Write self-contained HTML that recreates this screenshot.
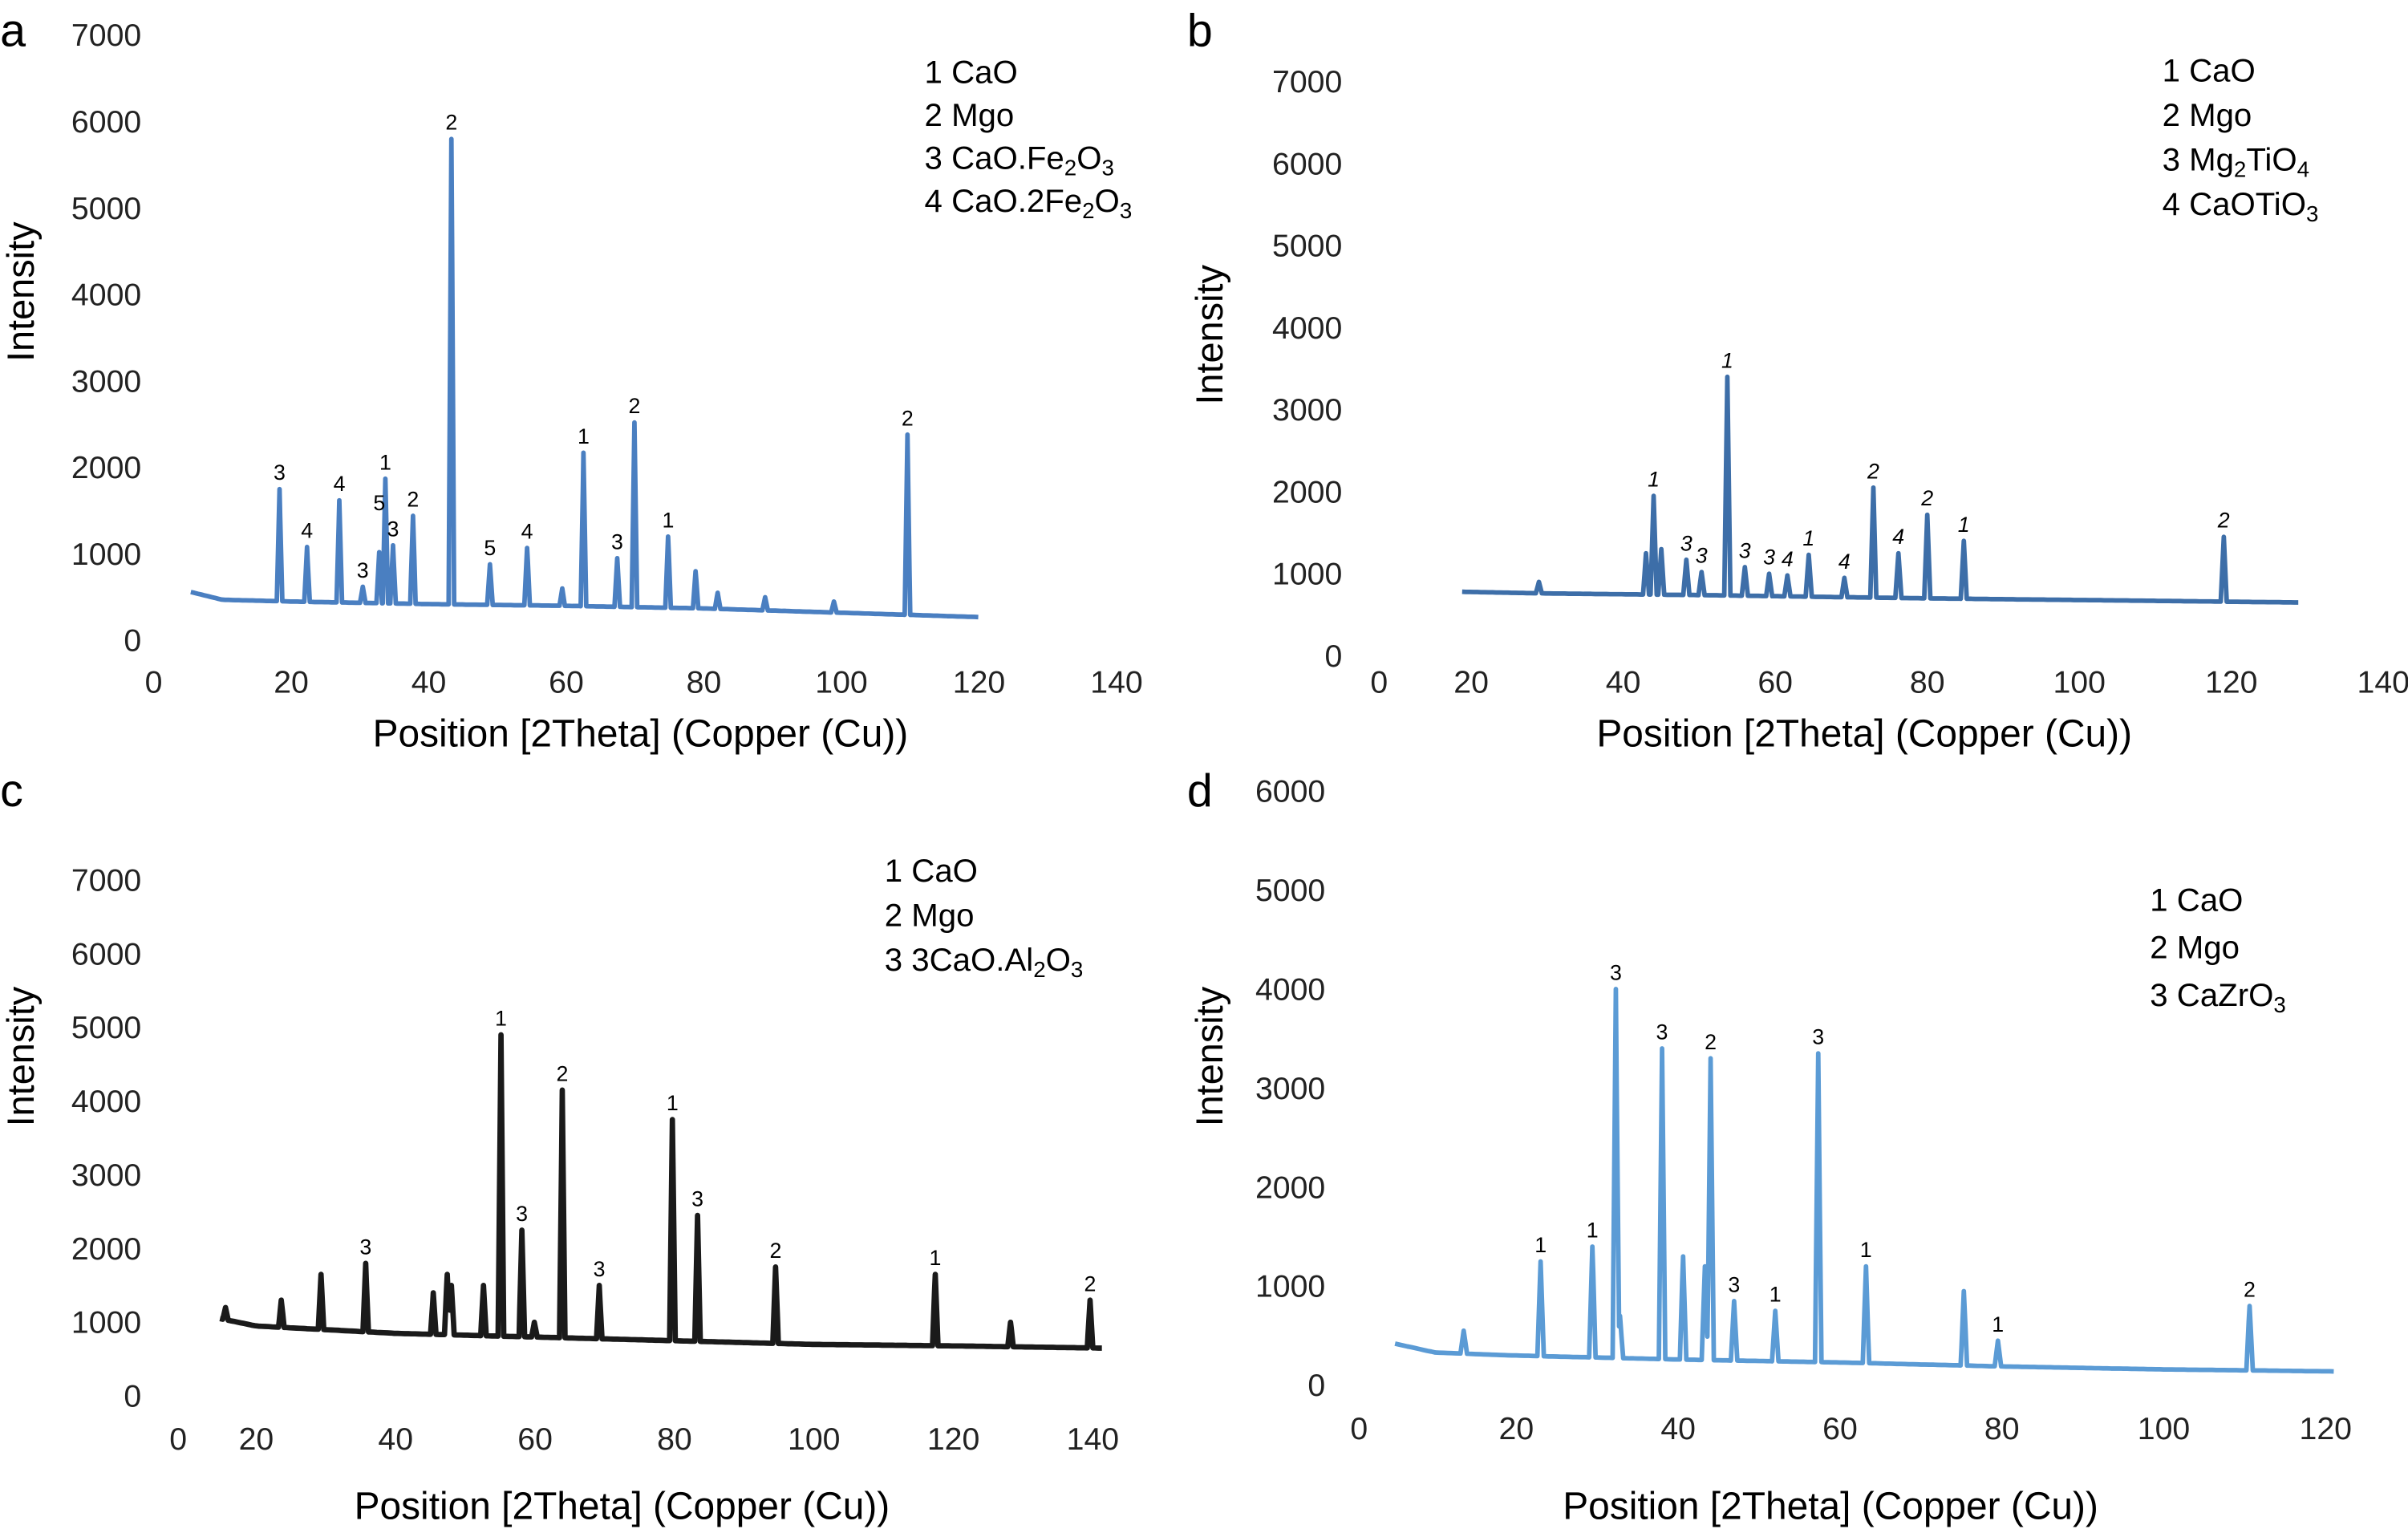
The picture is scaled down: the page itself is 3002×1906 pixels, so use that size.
<!DOCTYPE html>
<html><head><meta charset="utf-8"><style>
html,body{margin:0;padding:0;background:#fff}
svg{display:block;font-family:"Liberation Sans",sans-serif}
</style></head><body>
<svg id="fig" width="3002" height="1906" viewBox="0 0 1568 995.6" xmlns="http://www.w3.org/2000/svg"></svg>
<script>
// Panel a data
const aBaseX=[5.4,10,20,40,60,80,100,120];
const aBaseY=[560,470,450,420,400,370,320,270];
const aPeakX=[18.3,22.3,27,30.4,32.8,33.7,34.8,37.7,43.3,48.9,54.3,59.4,62.5,67.4,69.9,74.8,78.8,82,88.9,98.9,109.6];
const aPeakY=[1750,1080,1620,620,1020,1870,1100,1440,5800,880,1070,600,2170,950,2520,1200,800,550,500,450,2380];
const aLabX=[18.3,22.3,27,30.4,32.8,33.7,34.8,37.7,43.3,48.9,54.3,62.5,67.4,69.9,74.8,109.6];
const aLabY=[1750,1080,1620,620,1400,1870,1100,1440,5800,880,1070,2170,950,2520,1200,2380];
const aLabT=["3","4","4","3","5","1","3","2","2","5","4","1","3","2","1","2"];
// Panel b data
const bBaseX=[18.8,30,50,80,100,128.9];
const bBaseY=[780,760,740,700,680,650];
const bPeakX=[28.9,43,44,45,48.3,50.3,53.7,56,59.2,61.6,64.4,69.1,72.9,76.2,80,84.8,119];
const bPeakY=[900,1250,1950,1300,1170,1020,3400,1080,1000,980,1230,950,2050,1250,1720,1400,1450];
const bLabX=[44,48.3,50.3,53.7,56,59.2,61.6,64.4,69.1,72.9,76.2,80,84.8,119];
const bLabY=[1950,1170,1020,3400,1080,1000,980,1230,950,2050,1250,1720,1400,1450];
const bLabT=["1","3","3","1","3","3","4","1","4","2","4","2","1","2"];
// Panel c data
const cBaseX=[14.8,20,40,60,80,100,120,141.4];
const cBaseY=[1050,950,850,800,750,700,680,650];
const cPeakX=[15.6,23.6,29.3,35.7,45.4,47.4,48,52.6,55.1,58.1,59.9,63.9,69.2,79.7,83.3,94.5,117.4,128.2,139.6];
const cPeakY=[1200,1300,1650,1800,1400,1650,1500,1500,4900,2250,1000,4150,1500,3750,2450,1750,1650,1000,1300];
const cLabX=[35.7,55.1,58.1,63.9,69.2,79.7,83.3,94.5,117.4,139.6];
const cLabY=[1800,4900,2250,4150,1500,3750,2450,1750,1650,1300];
const cLabT=["3","1","3","2","3","1","3","2","1","2"];
// Panel d data
const dBaseX=[5,10,20,40,60,80,100,121];
const dBaseY=[420,330,300,260,230,190,160,140];
const dPeakX=[13.5,23,29.4,32.3,32.8,38,40.6,43.3,44,46.9,52,57.3,63.2,75.3,79.5,110.6];
const dPeakY=[550,1250,1400,4000,700,3400,1300,1200,3300,850,750,3350,1200,950,450,800];
const dLabX=[23,29.4,32.3,38,44,46.9,52,57.3,63.2,79.5,110.6];
const dLabY=[1250,1400,4000,3400,3300,850,750,3350,1200,450,800];
const dLabT=["1","1","3","3","2","3","1","3","1","1","2"];

const NS="http://www.w3.org/2000/svg";
const svg=document.getElementById('fig');
function el(tag,attrs,parent){const e=document.createElementNS(NS,tag);for(const k in attrs)e.setAttribute(k,attrs[k]);(parent||svg).appendChild(e);return e;}
function interp(xs,ys,x){if(x<=xs[0])return ys[0];for(let i=1;i<xs.length;i++){if(x<=xs[i]){const t=(x-xs[i-1])/(xs[i]-xs[i-1]);return ys[i-1]+t*(ys[i]-ys[i-1]);}}return ys[ys.length-1];}

function panel(p){
  const g=el('g',{});
  
  
  const sx=v=>p.x0+(v-p.xmin)*p.xs, sy=v=>p.y0-v*p.ys;
  let t=el('text',{x:p.lx,y:p.ly,'font-size':30},g);t.textContent=p.id;
  
  p.yt.forEach(v=>{const e=el('text',{x:p.yax-8,y:sy(v)+7,'font-size':20.5,'text-anchor':'end',fill:'#222'},g);e.textContent=v;
    });
  p.xt.forEach(v=>{const xx=(v===0&&p.zeroX)?p.zeroX:sx(v);const e=el('text',{x:xx,y:p.xly,'font-size':20.5,'text-anchor':'middle',fill:'#222'},g);e.textContent=v;
    });
  let yt=el('text',{x:0,y:0,'font-size':24.5,'text-anchor':'middle',transform:`translate(${p.ytx},${p.yty}) rotate(-90)`},g);yt.textContent='Intensity';
  
  let xt=el('text',{x:p.xtx,y:p.xty,'font-size':25,'text-anchor':'middle'},g);xt.textContent='Position [2Theta] (Copper (Cu))';
  
  const pts=[];const bx=p.bx,by=p.by,w=0.4;
  const xs=new Set();for(let x=bx[0];x<=bx[bx.length-1];x+=0.5)xs.add(+x.toFixed(2));
  p.px.forEach(x=>{xs.add(x-w);xs.add(x);xs.add(x+w);});
  [...xs].sort((a,b)=>a-b).forEach(x=>{let y=interp(bx,by,x);
    p.px.forEach((px,i)=>{const d=Math.abs(x-px);if(d<w){const h=p.py[i]-interp(bx,by,px);y=Math.max(y,interp(bx,by,x)+h*(1-d/w));}});
    pts.push(sx(x).toFixed(1)+','+sy(y).toFixed(1));});
  const path=el('polyline',{points:pts.join(' '),fill:'none',stroke:p.color,'stroke-width':p.sw||3,'stroke-linejoin':'round'},g);
  
  p.lxs.forEach((x,i)=>{const e=el('text',{x:sx(x),y:sy(p.lys[i])-6,'font-size':14,'text-anchor':'middle','font-style':p.ital?'italic':'normal'},g);e.textContent=p.lts[i];
    });
  const lg=el('g',{},g);
  p.legend.forEach((s,i)=>{const e=el('text',{x:p.legx,y:p.legy+i*p.legs,'font-size':21},lg);e.innerHTML=s;
    });
}
const sub=s=>`<tspan baseline-shift="-30%" font-size="14.5">${s}</tspan>`;
panel({id:'a',lx:0,ly:30,x0:100,xmin:0,xs:4.479,yax:100,y0:417,ys:0.0563,yt:[0,1000,2000,3000,4000,5000,6000,7000],xt:[0,20,40,60,80,100,120,140],xly:451,
  ytx:22,yty:190,xtx:417,xty:486,bx:aBaseX,by:aBaseY,px:aPeakX,py:aPeakY,lxs:aLabX,lys:aLabY,lts:aLabT,color:'#4a7fc1',
  legx:602,legy:54,legs:28,legend:['1 CaO','2 Mgo','3 CaO.Fe'+sub('2')+'O'+sub('3'),'4 CaO.2Fe'+sub('2')+'O'+sub('3')]});
panel({id:'b',lx:773,ly:30,x0:859,xmin:0,xs:4.95,yax:882,zeroX:898,y0:427,ys:0.0534,yt:[0,1000,2000,3000,4000,5000,6000,7000],xt:[0,20,40,60,80,100,120,140],xly:451,
  ytx:796,yty:218,xtx:1214,xty:486,bx:bBaseX,by:bBaseY,px:bPeakX,py:bPeakY,lxs:bLabX,lys:bLabY,lts:bLabT,color:'#3d6ea8',ital:true,
  legx:1408,legy:53,legs:29,legend:['1 CaO','2 Mgo','3 Mg'+sub('2')+'TiO'+sub('4'),'4 CaOTiO'+sub('3')]});
panel({id:'c',lx:0,ly:525,x0:76,xmin:0,xs:4.54,yax:100,zeroX:116,y0:909,ys:0.048,yt:[0,1000,2000,3000,4000,5000,6000,7000],xt:[0,20,40,60,80,100,120,140],xly:944,
  ytx:22,yty:688,xtx:405,xty:989,bx:cBaseX,by:cBaseY,px:cPeakX,py:cPeakY,lxs:cLabX,lys:cLabY,lts:cLabT,color:'#1a1a1a',sw:3.5,
  legx:576,legy:574,legs:29,legend:['1 CaO','2 Mgo','3 3CaO.Al'+sub('2')+'O'+sub('3')]});
panel({id:'d',lx:773,ly:525,x0:882,xmin:0,xs:5.27,yax:871,zeroX:885,y0:902,ys:0.0645,yt:[0,1000,2000,3000,4000,5000,6000],xt:[0,20,40,60,80,100,120],xly:937,
  ytx:796,yty:688,xtx:1192,xty:989,bx:dBaseX,by:dBaseY,px:dPeakX,py:dPeakY,lxs:dLabX,lys:dLabY,lts:dLabT,color:'#5b9bd5',
  legx:1400,legy:593,legs:31,legend:['1 CaO','2 Mgo','3 CaZrO'+sub('3')]});
</script>
</body></html>
